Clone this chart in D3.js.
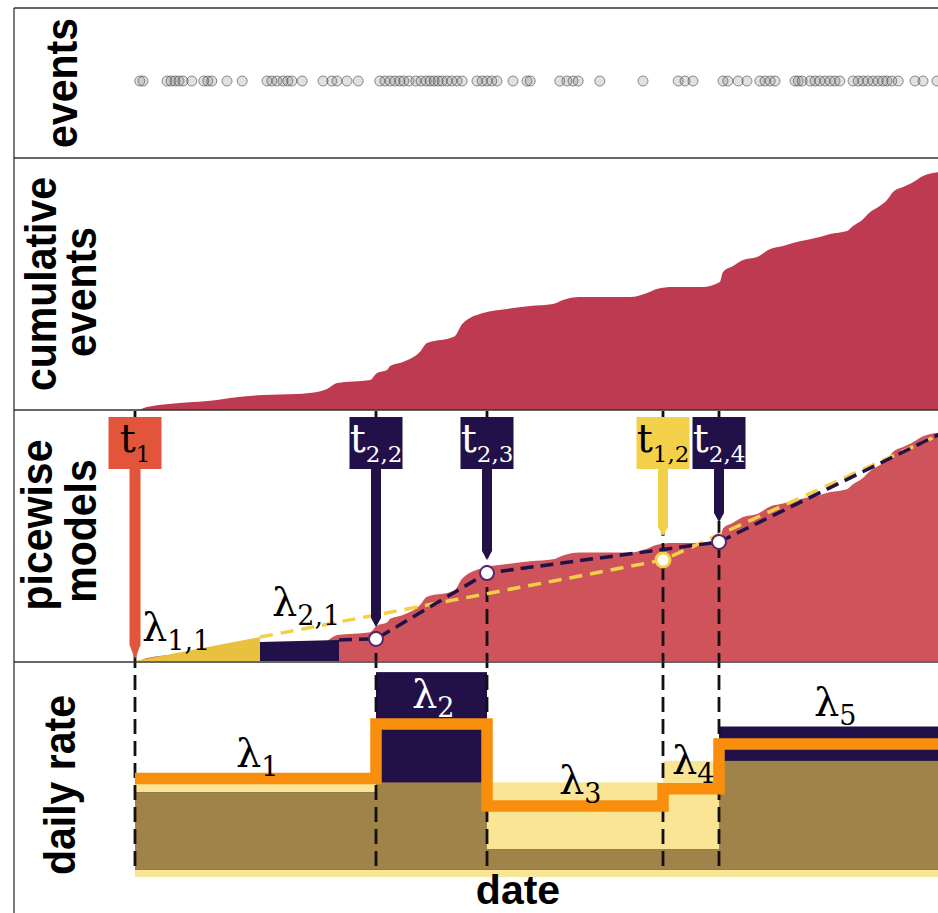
<!DOCTYPE html>
<html>
<head>
<meta charset="utf-8">
<script src="https://cdn.jsdelivr.net/npm/d3@7"></script>
<style>
  html, body { margin: 0; padding: 0; background: #fff; }
  svg { display: block; }
  .rowlab { font-family: "Liberation Sans", Arial, sans-serif; font-weight: bold; font-size: 41px; fill: #000; }
  .math { font-family: "DejaVu Serif", serif; }
</style>
</head>
<body>
<svg id="chart" width="938" height="913"></svg>
<script>
// ─── data (x in days since t1) ───
const events = [1.2, 2, 8, 9, 10, 11, 12, 14.2, 17.2, 18.2, 19.2, 23, 26.8,
  33, 34.2, 35.5, 37, 38.2, 39.2, 41.8, 47, 49.2, 50.5, 53, 55.8,
  61.2, 62.5, 63.8, 65, 66.2, 67.2, 68.5, 70.2, 71.5, 72.8, 73.8, 74.8, 75.8, 76.8, 78, 79.2, 80.5, 81.8,
  85.5, 86.8, 88, 89.2, 90.5, 94.5, 98, 98.8, 106.2, 108, 109.5, 110.8, 116.2, 127,
  135.8, 137.5, 139.5, 147, 148.2, 150.8, 153, 156.2, 157.5, 158.8, 160, 165, 165.8, 166.8,
  168.8, 170, 171.2, 172.5, 173.8, 175, 176.2, 179.5, 180.8, 182, 183.2, 184.5, 185.8, 187, 188,
  189.2, 190.8, 195, 197, 200.5];

// cumulative events [day, count]
const cumulative = [[0, 0], [0.5, 0], [3, 1.5], [11.2, 3.5], [20.5, 5], [23.8, 6], [32, 7.5], [40.5, 8],
  [45.5, 9], [48, 10.5], [50.5, 13.5], [58.8, 15], [60.5, 18.5], [63, 20], [63.8, 22], [67, 24],
  [71.2, 29], [73, 33.5], [78.8, 36], [80, 37], [81.8, 43], [87, 48.5], [93, 50.5], [98.8, 52],
  [104.5, 53], [107, 55], [111.2, 56.5], [123.8, 56.5], [128, 58.5], [130.5, 60.5], [134.5, 61.5],
  [141.8, 61.5], [146.2, 64], [147, 69], [149.5, 72], [152, 75], [155.5, 76.5], [158.8, 80.5],
  [162, 82], [164.5, 83.5], [171.2, 86.5], [173.8, 88], [178, 89.5], [179.5, 92], [181.8, 95],
  [183.8, 99], [185.8, 101.5], [188, 105], [189.5, 109], [192, 111.5], [194.2, 113.5], [197, 117],
  [201, 119]];

// piecewise models: knots [day, cumulative count]
const yellowModel = [[0, 0], [132, 52.6], [201, 117.7]];
const purpleModel = [[31.25, 9.9], [60.25, 11.5], [88, 45.8], [146, 62], [201, 118]];

// change points
const changepoints = [
  { sub: '1',   day: 0,     model: 'first'  },
  { sub: '2,2', day: 60.25, model: 'purple' },
  { sub: '2,3', day: 88,    model: 'purple' },
  { sub: '1,2', day: 132,   model: 'yellow' },
  { sub: '2,4', day: 146,   model: 'purple' }
];

// daily rate bands [from, to, low, high]
const yellowRate = [[0, 132, 0, 0.44], [132, 201, 0, 0.54]];
const purpleRate = [[0, 60.25, 0.033, 0.395], [60.25, 88, 0.033, 0.953], [88, 146, 0.033, 0.13], [146, 201, 0.033, 0.70]];
// combined rate step line [day, rate]
const combinedRate = [[0, 0.458], [60.25, 0.712], [88, 0.33], [132, 0.41], [146, 0.619], [201, 0.619]];

// ─── colours ───
const C = {
  red: '#be3a51', red2: '#cf535a', first: '#e2553b', purple: '#221049',
  yellow: '#f3d04a', yellowFill: '#e8c23e', pale: '#f9e594', brown: '#a08348', orange: '#f98d0c'
};
const tipGap = { '1': 2, '2,2': 12, '2,3': 13, '1,2': 24, '2,4': 20 };

const svg = d3.select('#chart');
const x = d3.scaleLinear().domain([0, 200]).range([135, 935]);
const yCum = d3.scaleLinear().domain([0, 125]).range([410, 160]);
const yMod = d3.scaleLinear().domain([0, 125]).range([661, 421]);
const yRate = d3.scaleLinear().domain([0, 1]).range([877, 662]);

// interpolate a knot model at a day
function modelAt(knots, day) {
  const xs = knots.map(k => k[0]), ys = knots.map(k => k[1]);
  return d3.scaleLinear().domain(xs).range(ys).clamp(true)(day);
}

// ─── cumulative panel ───
svg.append('path')
  .datum(cumulative)
  .attr('fill', C.red)
  .attr('d', d3.area().curve(d3.curveMonotoneX)
    .x(d => x(d[0])).y0(yCum(0)).y1(d => yCum(d[1])));

// ─── picewise models panel ───
svg.append('path')
  .datum(cumulative)
  .attr('fill', C.red2)
  .attr('d', d3.area().curve(d3.curveMonotoneX)
    .x(d => x(d[0])).y0(yMod(0)).y1(d => yMod(d[1])));

const yellowCut = 31.25, purpleCut = 51;
const wedge = (knots, a, b) => {
  const pts = [a, ...knots.map(k => k[0]).filter(d => d > a && d < b), b];
  return pts.map(d => [d, modelAt(knots, d)]);
};
const areaMod = d3.area().x(d => x(d[0])).y0(yMod(0)).y1(d => yMod(d[1]));
svg.append('path').datum(wedge(yellowModel, 0, yellowCut)).attr('fill', C.yellowFill).attr('d', areaMod);
svg.append('path').datum(wedge(purpleModel, yellowCut, purpleCut)).attr('fill', C.purple).attr('d', areaMod);

// ─── daily rate panel ───
const rateG = svg.append('g');
rateG.selectAll('rect.pale').data(yellowRate).enter().append('rect')
  .attr('x', d => x(d[0])).attr('width', d => x(d[1]) - x(d[0]))
  .attr('y', d => yRate(d[3])).attr('height', d => yRate(d[2]) - yRate(d[3]))
  .attr('fill', C.pale);
rateG.selectAll('rect.pur').data(purpleRate).enter().append('rect')
  .attr('x', d => x(d[0])).attr('width', d => x(d[1]) - x(d[0]))
  .attr('y', d => yRate(d[3])).attr('height', d => yRate(d[2]) - yRate(d[3]))
  .attr('fill', C.purple);
const overlap = [];
yellowRate.forEach(a => purpleRate.forEach(b => {
  const f = Math.max(a[0], b[0]), t = Math.min(a[1], b[1]);
  if (t > f) overlap.push([f, t, Math.max(a[2], b[2]), Math.min(a[3], b[3])]);
}));
rateG.selectAll('rect.ov').data(overlap).enter().append('rect')
  .attr('x', d => x(d[0])).attr('width', d => x(d[1]) - x(d[0]))
  .attr('y', d => yRate(d[3])).attr('height', d => yRate(d[2]) - yRate(d[3]))
  .attr('fill', C.brown);

// ─── change point dashed guides ───
svg.append('g').selectAll('line').data(changepoints).enter().append('line')
  .attr('x1', d => x(d.day)).attr('x2', d => x(d.day))
  .attr('y1', 411).attr('y2', 873)
  .attr('stroke', '#111').attr('stroke-width', 2.8).attr('stroke-dasharray', '15,7');

// ─── model dashed lines ───
const lineMod = d3.line().x(d => x(d[0])).y(d => yMod(d[1]));
svg.append('path').datum(wedge(yellowModel, yellowCut, 201))
  .attr('fill', 'none').attr('stroke', C.yellow).attr('stroke-width', 3.5)
  .attr('stroke-dasharray', '13,8').attr('d', lineMod);
svg.append('path').datum(wedge(purpleModel, purpleCut, 201))
  .attr('fill', 'none').attr('stroke', C.purple).attr('stroke-width', 3.5)
  .attr('stroke-dasharray', '13,7').attr('d', lineMod);

// ─── markers ───
const colorOf = d => d.model === 'first' ? C.first : d.model === 'yellow' ? C.yellow : C.purple;
const textOf = d => d.model === 'purple' ? '#fff' : '#000';
const valueOf = d => d.model === 'yellow' ? modelAt(yellowModel, d.day)
  : d.model === 'purple' ? modelAt(purpleModel, d.day) : 0;

const pts = changepoints.filter(d => d.model !== 'first');
svg.append('g').selectAll('circle').data(pts).enter().append('circle')
  .attr('cx', d => x(d.day)).attr('cy', d => yMod(valueOf(d)))
  .attr('r', 7)
  .attr('fill', '#fff')
  .attr('stroke', d => d.model === 'yellow' ? C.yellow : '#5a2470')
  .attr('stroke-width', d => d.model === 'yellow' ? 3 : 2);

const mk = svg.append('g').selectAll('g').data(changepoints).enter().append('g');
mk.append('path')
  .attr('fill', colorOf)
  .attr('d', d => {
    const cx = x(d.day), w = d.model === 'first' ? 11 : 10, tp = d.model === 'first' ? 14 : 9;
    const tip = yMod(valueOf(d)) - tipGap[d.sub];
    return `M${cx - w / 2},468 L${cx + w / 2},468 L${cx + w / 2},${tip - tp} L${cx},${tip} L${cx - w / 2},${tip - tp} Z`;
  });
mk.append('rect')
  .attr('x', d => x(d.day) - 26.5).attr('y', 417)
  .attr('width', 53).attr('height', 52)
  .attr('fill', colorOf);
const mt = mk.append('text').attr('class', 'math')
  .attr('x', d => x(d.day)).attr('y', 452)
  .attr('text-anchor', 'middle').attr('fill', textOf);
mt.append('tspan').attr('font-size', 40).text('t');
mt.append('tspan').attr('font-size', 23).attr('dy', 10).text(d => d.sub);

// ─── combined daily rate ───
svg.append('path').datum(combinedRate)
  .attr('fill', 'none').attr('stroke', C.orange).attr('stroke-width', 11.5)
  .attr('stroke-linejoin', 'miter')
  .attr('d', d3.line().curve(d3.curveStepAfter).x(d => x(d[0])).y(d => yRate(d[1])));

// ─── lambda labels ───
const lam = (px, py, sub, fill) => {
  const t = svg.append('text').attr('class', 'math').attr('x', px).attr('y', py).attr('fill', fill || '#000');
  t.append('tspan').attr('font-size', 40).text('λ');
  t.append('tspan').attr('font-size', 27).attr('dy', 9).text(sub);
};
lam(142, 641, '1,1');
lam(272, 616, '2,1');
lam(236, 767, '1');
lam(412, 708, '2', '#fff');
lam(559, 794, '3');
lam(672, 774, '4');
lam(814, 716, '5');

// ─── frame ───
const frame = svg.append('g').attr('stroke', '#333').attr('stroke-width', 1.3);
frame.append('line').attr('x1', 14).attr('x2', 938).attr('y1', 8).attr('y2', 8);
[158, 410, 662].forEach(y => frame.append('line').attr('x1', 14).attr('x2', 938).attr('y1', y).attr('y2', y));
frame.append('line').attr('x1', 14).attr('x2', 14).attr('y1', 8).attr('y2', 913);

// ─── events ───
svg.append('g').selectAll('circle').data(events).enter().append('circle')
  .attr('cx', d => x(d)).attr('cy', 81).attr('r', 5)
  .attr('fill', '#777').attr('fill-opacity', 0.22)
  .attr('stroke', '#333').attr('stroke-opacity', 0.55).attr('stroke-width', 1);

// ─── row labels ───
const rowLab = (bx, cy, txt) => svg.append('text').attr('class', 'rowlab')
  .attr('transform', `translate(${bx},${cy}) rotate(-90) scale(1,1.08)`)
  .attr('text-anchor', 'middle').text(txt);
rowLab(77, 83, 'events');
rowLab(56, 284, 'cumulative');
rowLab(96, 292, 'events');
rowLab(52, 525, 'picewise');
rowLab(96, 531, 'models');
rowLab(75, 785, 'daily rate');
svg.append('text').attr('class', 'rowlab').attr('x', 518).attr('y', 904)
  .attr('text-anchor', 'middle').text('date');
</script>
</body>
</html>
